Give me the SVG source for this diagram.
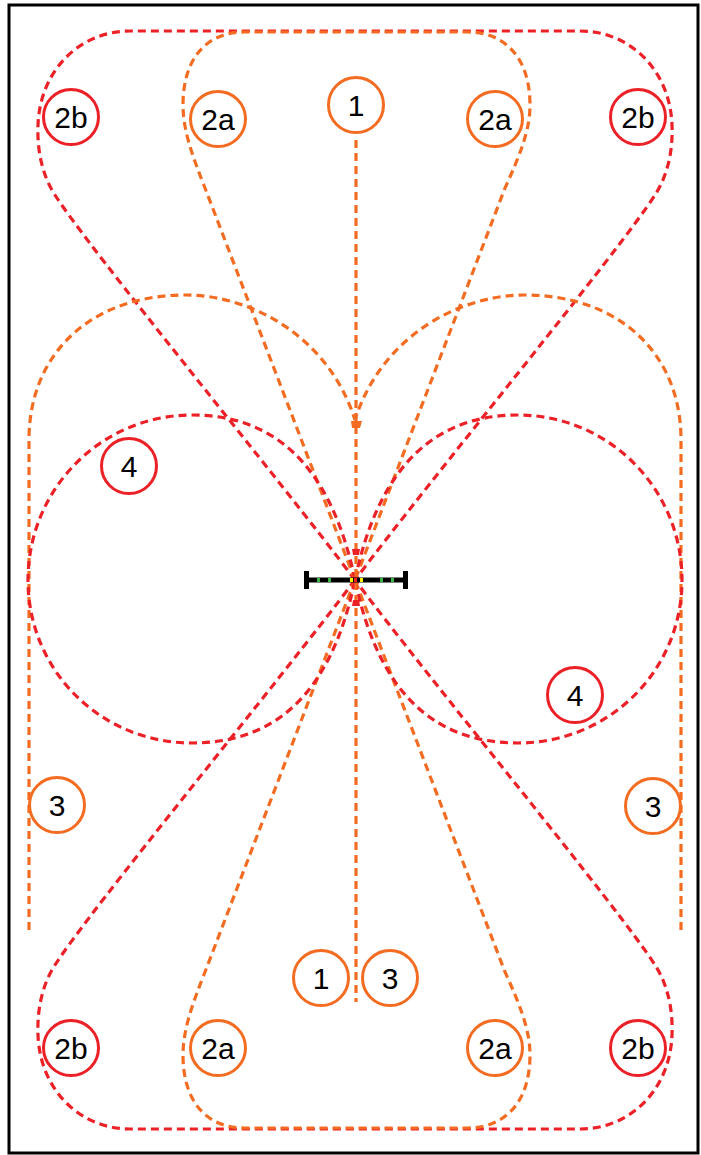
<svg xmlns="http://www.w3.org/2000/svg" width="701" height="1155" viewBox="0 0 701 1155">
<style>
.r{fill:none;stroke:#ec2027;stroke-width:3.2;stroke-dasharray:8 5}
.o{fill:none;stroke:#f36c22;stroke-width:3.2;stroke-dasharray:8 5}
.nr circle{fill:#fff;stroke:#ec2027;stroke-width:3}
.no circle{fill:#fff;stroke:#f36c22;stroke-width:3}
text{font-family:"Liberation Sans",Arial,sans-serif;font-size:30px;fill:#000;text-anchor:middle}
</style>
<rect x="0" y="0" width="701" height="1155" fill="#fff"/>
<rect x="9" y="5" width="689" height="1148" fill="none" stroke="#000" stroke-width="3"/>
<g id="connectors">
  <path class="r" d="M355,580 C280,480 90,250 55,195 C42,175 37,150 38,125 C40,70 80,31 130,31 L580,31 C630,31 670,70 672,125 C673,150 668,175 655,195 C620,250 430,480 355,580 Z"/>
  <path class="r" transform="matrix(1,0,0,-1,0,1160)" d="M355,580 C280,480 90,250 55,195 C42,175 37,150 38,125 C40,70 80,31 130,31 L580,31 C630,31 670,70 672,125 C673,150 668,175 655,195 C620,250 430,480 355,580 Z"/>
  <path class="o" d="M355,580 L205,188 C192,155 183,130 183,105 C183,60 205,32 245,32 L467,32 C507,32 530,60 530,105 C530,130 520,155 505,188 Z"/>
  <path class="o" transform="matrix(1,0,0,-1,0,1160)" d="M355,580 L205,188 C192,155 183,130 183,105 C183,60 205,32 245,32 L467,32 C507,32 530,60 530,105 C530,130 520,155 505,188 Z"/>
  <path class="o" d="M29,930 L29,440 C29,350 95,295 185,295 C255,295 330,340 355,420"/>
  <path class="o" transform="matrix(-1,0,0,1,710,0)" d="M29,930 L29,440 C29,350 95,295 185,295 C255,295 330,340 355,420"/>
  <path class="r" d="M355,580 C330,460 270,415 192,415 C101,415 28,489 28,580 C28,671 101,743 192,743 C270,743 330,700 355,580"/>
  <path class="r" transform="matrix(-1,0,0,1,710,0)" d="M355,580 C330,460 270,415 192,415 C101,415 28,489 28,580 C28,671 101,743 192,743 C270,743 330,700 355,580"/>
  <path class="o" d="M356,140 L356,1002"/>
  <polygon points="351,421 362,421 360,428 352,428" fill="#f36c22"/>
  <polygon points="352,549 360,549 359,555 353,555" fill="#ec2027"/>
  <polygon points="353,600 359,600 360,606 352,606" fill="#ec2027"/>
</g>
<g id="bar">
  <line x1="306" y1="580" x2="406" y2="580" stroke="#000" stroke-width="5"/>
  <rect x="304" y="571" width="5" height="18" fill="#000"/>
  <rect x="403" y="571" width="5" height="18" fill="#000"/>
  <rect x="317" y="578" width="3" height="4" fill="#3ab54a"/>
  <rect x="328" y="578" width="3" height="4" fill="#3ab54a"/>
  <rect x="380" y="578" width="3" height="4" fill="#3ab54a"/>
  <rect x="391" y="578" width="3" height="4" fill="#3ab54a"/>
  <rect x="350" y="578" width="3" height="4" fill="#fff200"/>
  <rect x="360" y="578" width="3" height="4" fill="#fff200"/>
  <rect x="354" y="578" width="3" height="4" fill="#ec2027"/>
</g>
<g id="n-2b-tl" class="nr"><circle cx="71" cy="117" r="27.5"/><text x="71" y="128">2b</text></g>
<g id="n-2a-tl" class="no"><circle cx="218" cy="119" r="27.5"/><text x="218" y="130">2a</text></g>
<g id="n-1-t" class="no"><circle cx="356" cy="105" r="27.5"/><text x="356" y="116">1</text></g>
<g id="n-2a-tr" class="no"><circle cx="495" cy="119" r="27.5"/><text x="495" y="130">2a</text></g>
<g id="n-2b-tr" class="nr"><circle cx="638" cy="117" r="27.5"/><text x="638" y="128">2b</text></g>
<g id="n-4-l" class="nr"><circle cx="129" cy="466" r="27.5"/><text x="129" y="477">4</text></g>
<g id="n-4-r" class="nr"><circle cx="575" cy="695" r="27.5"/><text x="575" y="706">4</text></g>
<g id="n-3-l" class="no"><circle cx="57" cy="805" r="27.5"/><text x="57" y="816">3</text></g>
<g id="n-3-r" class="no"><circle cx="653" cy="806" r="27.5"/><text x="653" y="817">3</text></g>
<g id="n-1-b" class="no"><circle cx="321" cy="978" r="27.5"/><text x="321" y="989">1</text></g>
<g id="n-3-b" class="no"><circle cx="390" cy="978" r="27.5"/><text x="390" y="989">3</text></g>
<g id="n-2b-bl" class="nr"><circle cx="71" cy="1048" r="27.5"/><text x="71" y="1059">2b</text></g>
<g id="n-2a-bl" class="no"><circle cx="218" cy="1048" r="27.5"/><text x="218" y="1059">2a</text></g>
<g id="n-2a-br" class="no"><circle cx="495" cy="1048" r="27.5"/><text x="495" y="1059">2a</text></g>
<g id="n-2b-br" class="nr"><circle cx="638" cy="1048" r="27.5"/><text x="638" y="1059">2b</text></g>
</svg>
